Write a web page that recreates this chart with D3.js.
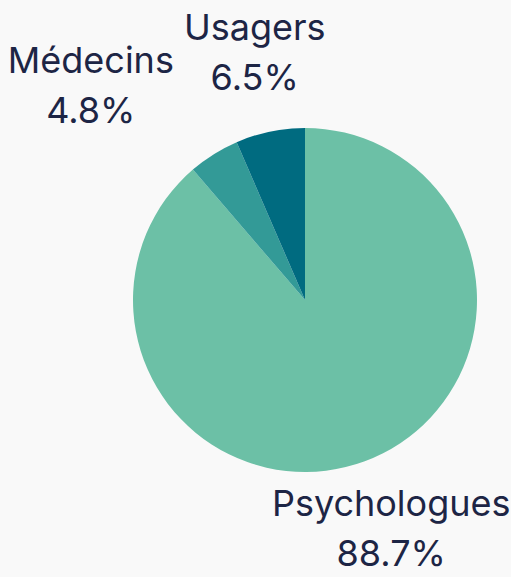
<!DOCTYPE html>
<html>
<head>
<meta charset="utf-8">
<script src="https://cdn.jsdelivr.net/npm/d3@7"></script>
<style>
  html, body { margin: 0; padding: 0; background: #f9f9f9; }
  svg { display: block; }
  .label { font-family: "Inter", "Lato", sans-serif; font-weight: 400; font-size: 36px; fill: #1d2545; }
</style>
</head>
<body>
<svg id="chart" width="511" height="577"></svg>
<script>
// data
const categories = ["Psychologues", "Médecins", "Usagers"];
const shares = [88.7, 4.8, 6.5];
const colors = ["#6cc0a6", "#339a97", "#006b80"];

const width = 511, height = 577;
const cx = 305, cy = 300, radius = 172;
const labelRadius = 248, lineGap = 50;

const svg = d3.select("#chart");
const g = svg.append("g").attr("transform", `translate(${cx},${cy})`);

const pie = d3.pie().sort(null).value(d => d.value);
const arcs = pie(categories.map((c, i) => ({ name: c, value: shares[i], color: colors[i] })));

const arc = d3.arc().innerRadius(0).outerRadius(radius);
const labelArc = d3.arc().innerRadius(labelRadius).outerRadius(labelRadius);

g.selectAll("path.slice")
  .data(arcs)
  .enter()
  .append("path")
  .attr("class", "slice")
  .attr("d", arc)
  .attr("fill", d => d.data.color);

// Label groups
const labels = g.selectAll("g.label")
  .data(arcs)
  .enter()
  .append("g")
  .attr("class", "label");

labels.append("text")
  .attr("text-anchor", "middle")
  .attr("y", -lineGap / 2 + 8)
  .text(d => d.data.name);
labels.append("text")
  .attr("text-anchor", "middle")
  .attr("y", lineGap / 2 + 8)
  .text(d => d.data.value.toFixed(1) + "%");

// initial positions + measure
const boxes = arcs.map((d, i) => {
  const [x, y] = labelArc.centroid(d);
  const node = labels.nodes()[i];
  const w = d3.max(Array.from(node.querySelectorAll("text")), t => t.getComputedTextLength());
  return { x, y, w, h: lineGap * 2 };
});

// push overlapping labels apart horizontally
for (let i = 0; i < boxes.length; i++) {
  for (let j = i + 1; j < boxes.length; j++) {
    const a = boxes[i], b = boxes[j];
    const overlapY = Math.abs(a.y - b.y) < (a.h + b.h) / 2;
    const overlapX = Math.abs(a.x - b.x) < (a.w + b.w) / 2 + 10;
    if (overlapY && overlapX) {
      if (a.x < b.x) a.x = b.x - (a.w + b.w) / 2 - 10;
      else a.x = b.x + (a.w + b.w) / 2 + 10;
    }
  }
}

labels.attr("transform", (d, i) => `translate(${boxes[i].x},${boxes[i].y})`);
</script>
</body>
</html>
